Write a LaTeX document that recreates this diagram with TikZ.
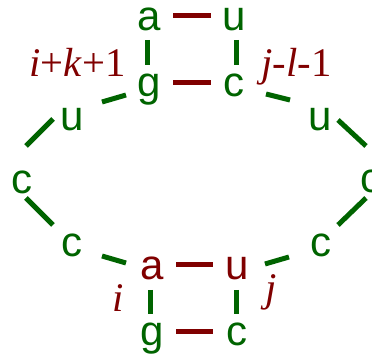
\documentclass[tikz,border=0pt]{standalone}
\usepackage{fontspec}
\setmainfont{Liberation Serif}
\setsansfont{Liberation Sans}
\usetikzlibrary{calc}
\definecolor{ntgreen}{RGB}{0,100,0}
\definecolor{ntred}{RGB}{128,0,0}
\tikzset{every picture/.style={line width=0.75pt}}
\tikzset{
  nt/.style={anchor=base,inner sep=0pt,text=ntgreen,font=\sffamily\fontsize{31.5}{36}\selectfont},
  ntr/.style={nt,text=ntred},
  lbl/.style={anchor=base west,inner sep=0pt,text=ntred,font=\fontsize{30.5}{34}\selectfont},
  bb/.style={draw=ntgreen,line width=3.75pt},
  bp/.style={draw=ntred,line width=3.75pt}
}

\begin{document}
\begin{tikzpicture}[x=0.75pt,y=0.75pt,yscale=-1,xscale=1]
\useasboundingbox (0,0) rectangle (372,356);

%Closing pair (top)
\node[nt] (aT) at (149.5,31) {a};
\node[nt] (uT) at (234,31) {u};
\node[nt] (gT) at (149.5,97) {g};
\node[nt] (cT) at (233.5,97) {c};
%Loop, left side
\node[nt] (uL) at (72,131) {u};
\node[nt] (cL) at (22.5,194) {c};
\node[nt] (cLL) at (72,257) {c};
%Loop, right side
\node[nt] (uR) at (320.5,131) {u};
\node[nt] (cR) at (370.5,193) {c};
\node[nt] (cRR) at (320.5,257) {c};
%Closing pair (bottom)
\node[ntr] (aB) at (152.5,280) {a};
\node[ntr] (uB) at (237,280) {u};
\node[nt] (gB) at (152.5,346) {g};
\node[nt] (cB) at (237,346) {c};

% Text Node
\node[lbl] (ik) at (29,77) {\textit{i}+\textit{k}+1};
% Text Node
\node[lbl] (jl) at (261,77) {\textit{j}-\textit{l}-1};
% Text Node
\node[lbl,anchor=base] (iB) at (118,312) {\textit{i}};
% Text Node
\node[lbl,anchor=base] (jB) at (271,302) {\textit{j}};

%Base pairs
\draw[bp] ($(aT.base)+(23.5,-15.5)$) -- ($(uT.base)+(-23,-15.5)$);
\draw[bp] ($(gT.base)+(23.5,-14.5)$) -- ($(cT.base)+(-22.5,-14.5)$);
\draw[bp] ($(aB.base)+(23.5,-15)$) -- ($(uB.base)+(-24,-15)$);
\draw[bp] ($(gB.base)+(23.5,-14.5)$) -- ($(cB.base)+(-24,-14.5)$);

%Backbone
\draw[bb] ($(aT.base)+(-2,9)$) -- ($(gT.base)+(-2,-32)$);
\draw[bb] ($(uT.base)+(2.5,9)$) -- ($(cT.base)+(3,-32)$);
\draw[bb] ($(gT.base)+(-23.5,-2)$) -- ($(uL.base)+(30,-29)$);
\draw[bb] ($(uL.base)+(-19,-12)$) -- ($(cL.base)+(3.5,-48)$);
\draw[bb] ($(cL.base)+(3.5,4)$) -- ($(cLL.base)+(-19,-32)$);
\draw[bb] ($(cLL.base)+(30,-1)$) -- ($(aB.base)+(-26.5,-17)$);
\draw[bb] ($(aB.base)+(-2,10)$) -- ($(gB.base)+(-2,-32)$);
\draw[bb] ($(uB.base)+(-0.5,10)$) -- ($(cB.base)+(-0.5,-32)$);
\draw[bb] ($(uB.base)+(28,-16)$) -- ($(cRR.base)+(-31.5,0)$);
\draw[bb] ($(cRR.base)+(17.5,-32)$) -- ($(cR.base)+(-4.5,5)$);
\draw[bb] ($(cR.base)+(-4.5,-47)$) -- ($(uR.base)+(17.5,-11)$);
\draw[bb] ($(uR.base)+(-30.5,-31)$) -- ($(cT.base)+(32.5,-3)$);

\end{tikzpicture}
\end{document}
